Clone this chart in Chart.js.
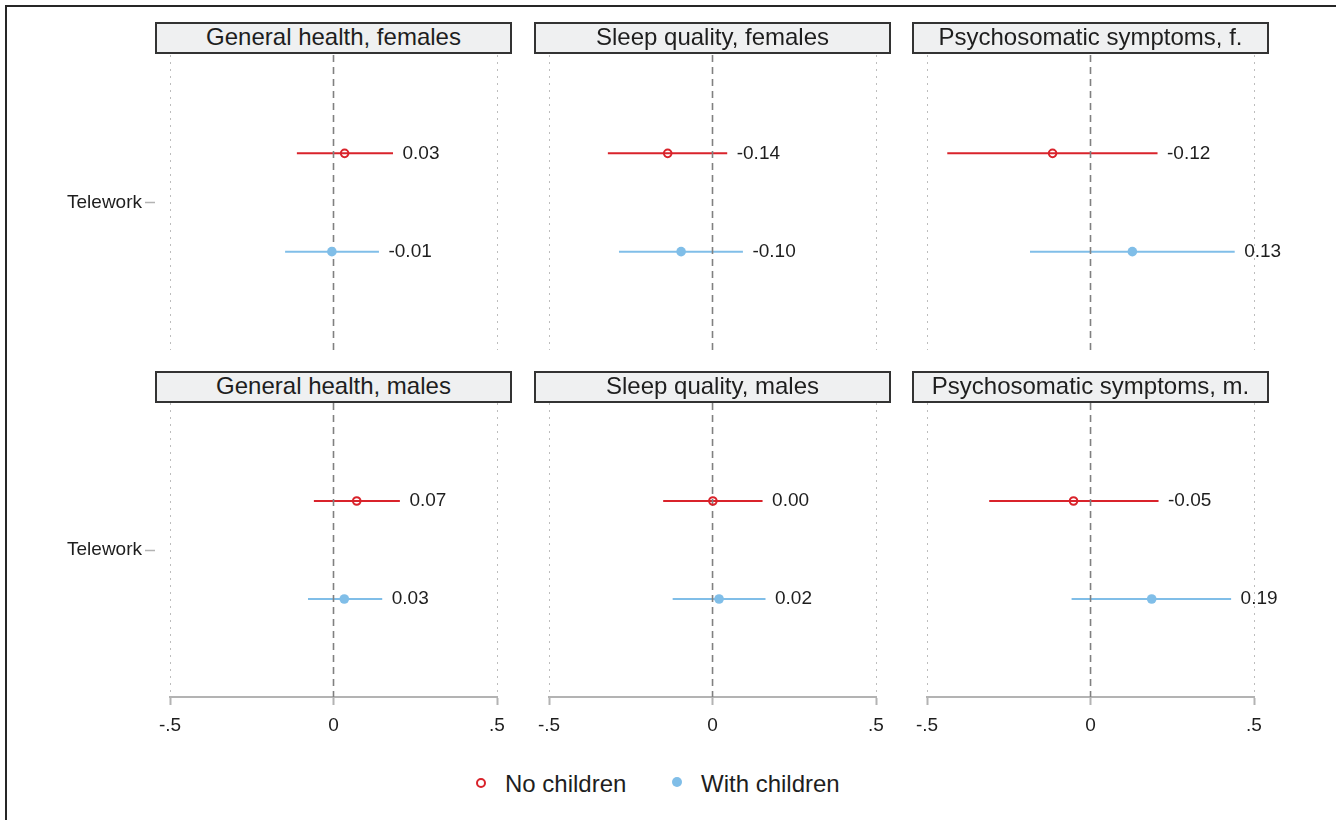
<!DOCTYPE html>
<html lang="en">
<head>
<meta charset="UTF-8" />
<title>Telework and health</title>
<script src="https://cdn.jsdelivr.net/npm/chart.js"></script>
</head>
<body style="margin:0; padding:0; background:#fff; font-family:'Liberation Sans', Arial, sans-serif;">

<div id="fig" style="position:relative; width:1336px; height:820px; overflow:hidden; background:#fff;">
  <div style="position:absolute; left:5px; top:5px; width:1331px; height:815px; border-left:2px solid #262626; border-top:2px solid #262626;"></div>

  <div style="position:absolute; left:476px; top:778px; width:10px; height:10px; box-sizing:border-box; border:2.4px solid #d9232b; border-radius:50%;"></div>
  <div id="leg0" style="position:absolute; left:505px; top:772px; height:24px; line-height:24px; font-size:24px; color:#1e1e1e; white-space:nowrap;"></div>
  <div style="position:absolute; left:672px; top:777px; width:10px; height:10px; border-radius:50%; background:#80bee8;"></div>
  <div id="leg1" style="position:absolute; left:701px; top:772px; height:24px; line-height:24px; font-size:24px; color:#1e1e1e; white-space:nowrap;"></div>
</div>

<script>
  // panels: top row females, bottom row males
  const panelTitles = ['General health, females', 'Sleep quality, females', 'Psychosomatic symptoms, f.',
                       'General health, males', 'Sleep quality, males', 'Psychosomatic symptoms, m.'];
  const rowLabel = 'Telework';
  const seriesNames = ['No children', 'With children'];

  const noKidsEst = [0.034, -0.137, -0.116, 0.071, 0.001, -0.052];
  const noKidsLo  = [-0.112, -0.320, -0.438, -0.060, -0.151, -0.310];
  const noKidsHi  = [0.182, 0.045, 0.205, 0.203, 0.153, 0.208];

  const kidsEst = [-0.005, -0.096, 0.128, 0.033, 0.020, 0.187];
  const kidsLo  = [-0.148, -0.286, -0.185, -0.078, -0.122, -0.058];
  const kidsHi  = [0.139, 0.093, 0.441, 0.149, 0.162, 0.430];

  const xTickValues = [-0.5, 0, 0.5];
  const xTickLabels = ['-.5', '0', '.5'];

  const red = '#d9232b';
  const blue = '#80bee8';
  const family = "'Liberation Sans', Arial, sans-serif";

  const colLeft = [170, 549, 927];   // left edge of each plot area
  const rowTop = [55, 403];
  const plotW = 327;
  const plotH = [295, 294];

  document.getElementById('leg0').textContent = seriesNames[0];
  document.getElementById('leg1').textContent = seriesNames[1];

  const fig = document.getElementById('fig');

  function makePanel(i) {
    const row = Math.floor(i / 3);
    const col = i % 3;
    const padL = col === 0 ? 165 : 20;
    const padR = 60, padT = 20;
    const padB = row === 0 ? 20 : 50;

    const canvas = document.createElement('canvas');
    canvas.width = padL + plotW + padR;
    canvas.height = padT + plotH[row] + padB;
    canvas.style.cssText = 'position:absolute; left:' + (colLeft[col] - padL) + 'px; top:' + (rowTop[row] - padT) + 'px;';
    fig.appendChild(canvas);

    const box = document.createElement('div');
    box.textContent = panelTitles[i];
    box.style.cssText = 'position:absolute; left:' + (colLeft[col] - 15) + 'px; top:' + (row === 0 ? 22 : 371) + 'px; width:' + (plotW + 30) + 'px; height:32px; box-sizing:border-box; border:2px solid #333; background:#eff0f1; color:#1e1e1e; font-size:24px; line-height:26px; text-align:center; white-space:nowrap; z-index:2;';
    fig.appendChild(box);

    const est = [noKidsEst[i], kidsEst[i]];
    const lo = [noKidsLo[i], kidsLo[i]];
    const hi = [noKidsHi[i], kidsHi[i]];
    const colors = [red, blue];

    const datasets = [];
    [0, 1].forEach(s => {
      datasets.push({
        data: [{x: lo[s], y: s + 1}, {x: hi[s], y: s + 1}],
        showLine: true, borderColor: colors[s], borderWidth: 2,
        pointRadius: 0, order: 3, clip: false
      });
    });
    // reference line at zero
    datasets.push({
      data: [{x: 0, y: 0}, {x: 0, y: 3}],
      showLine: true, borderColor: '#808080', borderWidth: 1.6, borderDash: [7, 5],
      pointRadius: 0, order: 2
    });
    datasets.push({
      data: [{x: est[0], y: 1}],
      pointRadius: 3.8, pointBorderWidth: 2, pointBorderColor: red,
      pointBackgroundColor: 'rgba(0,0,0,0)', order: 1, clip: false
    });
    datasets.push({
      data: [{x: est[1], y: 2}],
      pointRadius: 4.8, pointBorderWidth: 0, pointBackgroundColor: blue,
      order: 1, clip: false
    });

    const estLabels = {
      id: 'estLabels',
      afterDatasetsDraw(chart) {
        const ctx = chart.ctx;
        const x = chart.scales.x, y = chart.scales.y;
        ctx.save();
        ctx.font = '19px ' + family;
        ctx.fillStyle = '#1e1e1e';
        ctx.textBaseline = 'middle';
        ctx.textAlign = 'left';
        [0, 1].forEach(s => {
          ctx.fillText(est[s].toFixed(2), x.getPixelForValue(hi[s]) + 9.5, y.getPixelForValue(s + 1));
        });
        ctx.restore();
      }
    };

    new Chart(canvas, {
      type: 'scatter',
      data: { datasets: datasets },
      options: {
        responsive: false,
        animation: false,
        devicePixelRatio: 1,
        events: [],
        layout: { padding: { left: col === 0 ? 0 : padL, right: padR, top: padT, bottom: row === 0 ? padB : 0 } },
        plugins: { legend: { display: false }, tooltip: { enabled: false } },
        scales: {
          x: {
            type: 'linear', position: 'bottom', min: -0.5, max: 0.5,
            afterBuildTicks: s => { s.ticks = xTickValues.map(v => ({ value: v })); },
            ticks: {
              display: row === 1, autoSkip: false, maxRotation: 0, padding: 9,
              color: '#1e1e1e', font: { family: family, size: 19 },
              callback: (v, k) => xTickLabels[k]
            },
            grid: {
              color: c => (c.tick && c.tick.value === 0) ? 'rgba(0,0,0,0)' : '#bdbdbd',
              lineWidth: 1, drawTicks: row === 1, tickLength: 8,
              tickColor: '#b3b3b3', tickWidth: 2
            },
            border: { display: row === 1, color: '#b3b3b3', width: 2, dash: [2, 5] },
            afterFit: s => { s.height = row === 1 ? 50 : 0; }
          },
          y: {
            type: 'linear', position: 'left', min: 0, max: 3, reverse: true,
            weight: 10, display: col === 0,
            afterBuildTicks: s => { s.ticks = [{ value: 1.5 }]; },
            ticks: { color: '#1e1e1e', font: { family: family, size: 19 }, padding: 3, callback: () => rowLabel },
            grid: { drawOnChartArea: false, drawTicks: true, tickLength: 10, color: '#b3b3b3', tickColor: '#b3b3b3', tickWidth: 1.5 },
            border: { display: false },
            afterFit: s => { s.width = col === 0 ? 150 : 0; }
          },
          gap: {
            type: 'linear', axis: 'y', position: 'left', weight: 0, display: col === 0,
            ticks: { display: false }, grid: { display: false }, border: { display: false },
            afterFit: s => { s.width = col === 0 ? 15 : 0; }
          }
        }
      },
      plugins: [estLabels]
    });
  }

  for (let i = 0; i < panelTitles.length; i++) makePanel(i);
</script>
</body>
</html>
